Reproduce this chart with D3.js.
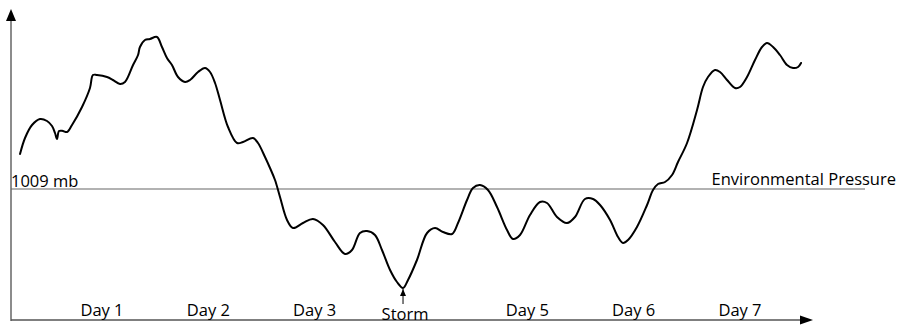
<!DOCTYPE html>
<html>
<head>
<meta charset="utf-8">
<script src="https://cdn.jsdelivr.net/npm/d3@7"></script>
<style>
  html, body { margin: 0; padding: 0; background: #fff; }
  svg { display: block; }
  text { font-family: "Open Sans", sans-serif; fill: #000; }
</style>
</head>
<body>
<svg id="chart" width="902" height="327"></svg>
<script>
// ---- data ----
// time in days (Day k labelled at k), pressure in mb
const days = [0.229,0.276,0.342,0.417,0.483,0.530,0.558,0.577,0.596,0.633,0.671,0.718,0.812,0.887,0.915,0.953,1.047,1.103,1.169,1.216,1.292,1.339,1.357,1.404,1.451,1.517,1.564,1.611,1.658,1.715,1.781,1.828,1.903,1.969,2.016,2.063,2.110,2.185,2.270,2.326,2.420,2.467,2.533,2.580,2.627,2.674,2.740,2.796,2.890,2.984,3.078,3.191,3.285,3.351,3.426,3.492,3.567,3.633,3.709,3.774,3.831,3.878,3.962,4.057,4.132,4.207,4.292,4.348,4.433,4.489,4.555,4.630,4.715,4.809,4.865,4.931,5.025,5.119,5.185,5.279,5.373,5.448,5.542,5.618,5.684,5.778,5.853,5.900,5.947,6.031,6.126,6.182,6.229,6.295,6.361,6.417,6.502,6.596,6.652,6.699,6.765,6.812,6.878,6.953,7.000,7.066,7.141,7.207,7.254,7.311,7.376,7.442,7.499,7.546,7.574];
const pressure = [1012.5,1014.1,1015.4,1016.0,1015.8,1015.3,1014.6,1014.0,1014.8,1014.8,1014.7,1015.4,1017.2,1019.1,1020.4,1020.4,1020.2,1019.9,1019.5,1019.7,1021.4,1022.4,1023.2,1023.9,1024.0,1024.2,1023.2,1022.1,1021.4,1020.2,1019.7,1019.9,1020.7,1021.1,1020.7,1019.6,1017.9,1015.2,1013.6,1013.7,1014.1,1013.6,1012.2,1011.1,1009.9,1008.2,1005.9,1005.1,1005.6,1006.0,1005.4,1003.7,1002.5,1002.9,1004.6,1004.8,1004.4,1002.9,1000.9,999.7,999.1,999.9,1001.9,1004.6,1005.1,1004.7,1004.5,1005.6,1007.9,1009.1,1009.4,1008.9,1007.2,1004.9,1004.0,1004.4,1006.4,1007.7,1007.6,1006.2,1005.6,1006.2,1008.0,1008.0,1007.4,1005.9,1004.2,1003.6,1003.9,1005.2,1007.4,1008.9,1009.5,1009.7,1010.4,1011.7,1013.6,1016.9,1019.2,1020.2,1020.9,1020.7,1019.9,1019.1,1019.2,1020.2,1021.9,1023.2,1023.6,1023.2,1022.4,1021.4,1021.1,1021.2,1021.6];
const dayLabels = ["Day 1","Day 2","Day 3","Day 5","Day 6","Day 7"];
const dayTicks = [1,2,3,5,6,7];
const envPressure = 1009;
const envLabel = "Environmental Pressure";
const envValueLabel = "1009 mb";
const stormLabel = "Storm";
const stormDay = 3.831;
const stormPressure = 999.1;

// ---- layout ----
const svg = d3.select("#chart");
const axisX = 11, axisY = 320;
const fs = 16.5;
const x = d3.scaleLinear().domain([1, 7]).range([102, 740]);
const y = d3.scaleLinear().domain([envPressure, 999]).range([189, 289]);

const defs = svg.append("defs");
defs.append("marker").attr("id","arrowSmall")
  .attr("viewBox","0 0 6 7").attr("refX",3).attr("refY",0)
  .attr("markerWidth",6).attr("markerHeight",7).attr("markerUnits","userSpaceOnUse")
  .append("path").attr("d","M0,7 L3,0 L6,7 Z").attr("fill","#000");

// axes
svg.append("line").attr("x1",axisX).attr("x2",axisX).attr("y1",axisY+1).attr("y2",12)
  .attr("stroke","#666").attr("stroke-width",1.5);
svg.append("path").attr("d",`M${axisX-5},21 L${axisX},9 L${axisX+5},21 Z`).attr("fill","#000");
svg.append("line").attr("x1",axisX).attr("x2",801).attr("y1",axisY).attr("y2",axisY)
  .attr("stroke","#555").attr("stroke-width",1.5);
svg.append("path").attr("d",`M800,${axisY-4.5} L813,${axisY} L800,${axisY+4.5} Z`).attr("fill","#000");

// environmental pressure line
svg.append("line").attr("x1",axisX).attr("x2",865)
  .attr("y1",y(envPressure)).attr("y2",y(envPressure))
  .attr("stroke","#666").attr("stroke-width",1.2);
svg.append("text").attr("x",11).attr("y",y(envPressure)-2).attr("font-size",fs).text(envValueLabel);
svg.append("text").attr("x",896).attr("y",y(envPressure)-4).attr("text-anchor","end").attr("font-size",fs).text(envLabel);

// day labels
svg.selectAll("text.day").data(dayTicks).join("text").attr("class","day")
  .attr("x", d => x(d)).attr("y", 316).attr("text-anchor","middle").attr("font-size",fs)
  .text((d,i) => dayLabels[i]);

// pressure curve
const pts = days.map((d,i) => [d, pressure[i]]);
const line = d3.line().x(d => x(d[0])).y(d => y(d[1])).curve(d3.curveCatmullRom.alpha(0.5));
svg.append("path").attr("d", line(pts)).attr("fill","none").attr("stroke","#000")
  .attr("stroke-width",2).attr("stroke-linejoin","round").attr("stroke-linecap","round");

// storm label and arrow
svg.append("line").attr("x1",x(stormDay)).attr("x2",x(stormDay))
  .attr("y1",304).attr("y2",y(stormPressure)+1)
  .attr("stroke","#000").attr("stroke-width",1).attr("marker-end","url(#arrowSmall)");
svg.append("text").attr("x",x(stormDay)+2).attr("y",320).attr("text-anchor","middle").attr("font-size",fs).text(stormLabel);
</script>
</body>
</html>
